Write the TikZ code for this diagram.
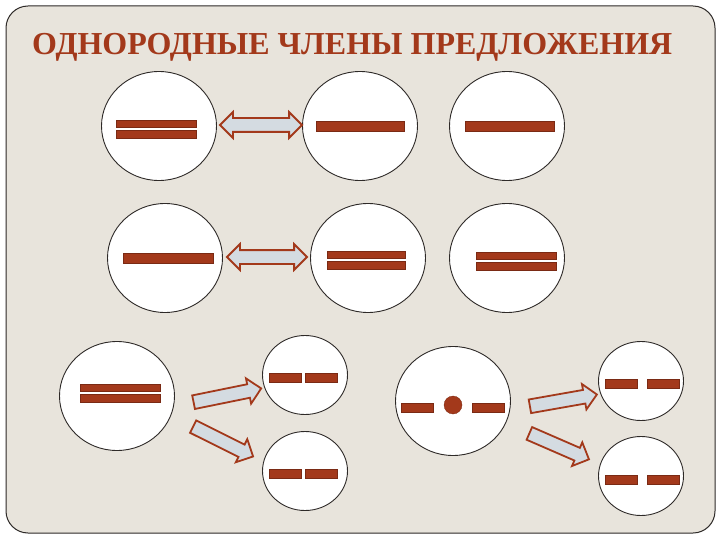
\documentclass[tikz,border=0pt]{standalone}
\usepackage{fontspec}
\setmainfont{Liberation Serif}
\usetikzlibrary{shapes.geometric,shapes.arrows}
\definecolor{rust}{HTML}{A3391B}
\definecolor{rustdk}{HTML}{7A2A14}
\definecolor{paper}{HTML}{E8E4DC}
\definecolor{pale}{HTML}{D4DBE1}
\definecolor{rim}{HTML}{2E2A28}

\begin{document}
\begin{tikzpicture}[x=1pt,y=-1pt,
    disc/.style={ellipse, draw=rim, line width=0.9pt, fill=white,
      minimum width=115pt, minimum height=109pt, inner sep=0pt},
    small disc/.style={disc, minimum width=85pt, minimum height=79pt},
    bar/.style={fill=rust, draw=rustdk, line width=0.3pt},
    twin/.style={double arrow, draw=rust, fill=pale, line width=1.8pt,
      inner xsep=0pt, inner ysep=6pt, double arrow head extend=6pt},
    push/.style={single arrow, draw=rust, fill=pale, line width=1.8pt,
      inner xsep=0pt, inner ysep=6pt, single arrow head extend=6pt}]

  \useasboundingbox (0,0) rectangle (720,540);
  \fill[white] (0,0) rectangle (720,540);
  \draw[rim, fill=paper, line width=1pt, rounded corners=22pt] (6,6) rectangle (715,533);

  \node[anchor=base west, text=rust, inner sep=0pt, font=\bfseries\fontsize{32}{32}\selectfont]
    (title) at (32,55) {ОДНОРОДНЫЕ ЧЛЕНЫ ПРЕДЛОЖЕНИЯ};

  % first two rows
  \node[disc] (c1) at (159,126) {};
  \node[disc] (c2) at (360,126) {};
  \node[disc] (c3) at (507,126) {};
  \node[disc] (c4) at (165,258) {};
  \node[disc] (c5) at (368,258) {};
  \node[disc] (c6) at (507,258) {};

  % bottom row
  \node[disc] (c7) at (117,396) {};
  \node[small disc] (c8) at (305,375) {};
  \node[small disc] (c9) at (305,471) {};
  \node[disc] (c10) at (453,401) {};
  \node[small disc] (c11) at (641,381) {};
  \node[small disc] (c12) at (641,476) {};

  % double bars
  \foreach \x/\y/\w in {156/129/80, 366/260.5/78, 516/261/80, 120/393/80} {
    \draw[bar] (\x-\w/2,\y-9) rectangle (\x+\w/2,\y-2);
    \draw[bar] (\x-\w/2,\y+1) rectangle (\x+\w/2,\y+9);
  }

  % single bars
  \foreach \x/\y/\w in {360/126/88, 509.5/126/89, 168/258/90}
    \draw[bar] (\x-\w/2,\y-5) rectangle (\x+\w/2,\y+5);

  % split bars
  \foreach \a/\b/\c/\d/\y in {269/301/305/337/378, 269/301/305/337/473.5,
      401/433/472/504/407.5, 605/637/647/679/384, 605/637/647/679/479.5} {
    \draw[bar] (\a,\y-4.5) rectangle (\b,\y+4.5);
    \draw[bar] (\c,\y-4.5) rectangle (\d,\y+4.5);
  }
  \node[circle, fill=rust, draw=rustdk, line width=0.3pt, minimum size=18pt,
    inner sep=0pt] (dot) at (453,405) {};

  % arrows
  \node[twin, minimum height=82pt] (eq1) at (261,125) {};
  \node[twin, minimum height=80pt] (eq2) at (267,257) {};
  \node[push, minimum height=69pt, rotate=11.5] (s1) at (224,396) {};
  \node[push, minimum height=67pt, rotate=-26.5] (s2) at (220,440) {};
  \node[push, minimum height=68pt, rotate=10] (s3) at (560,401) {};
  \node[push, minimum height=65pt, rotate=-23.5] (s4) at (556,445) {};
\end{tikzpicture}
\end{document}
